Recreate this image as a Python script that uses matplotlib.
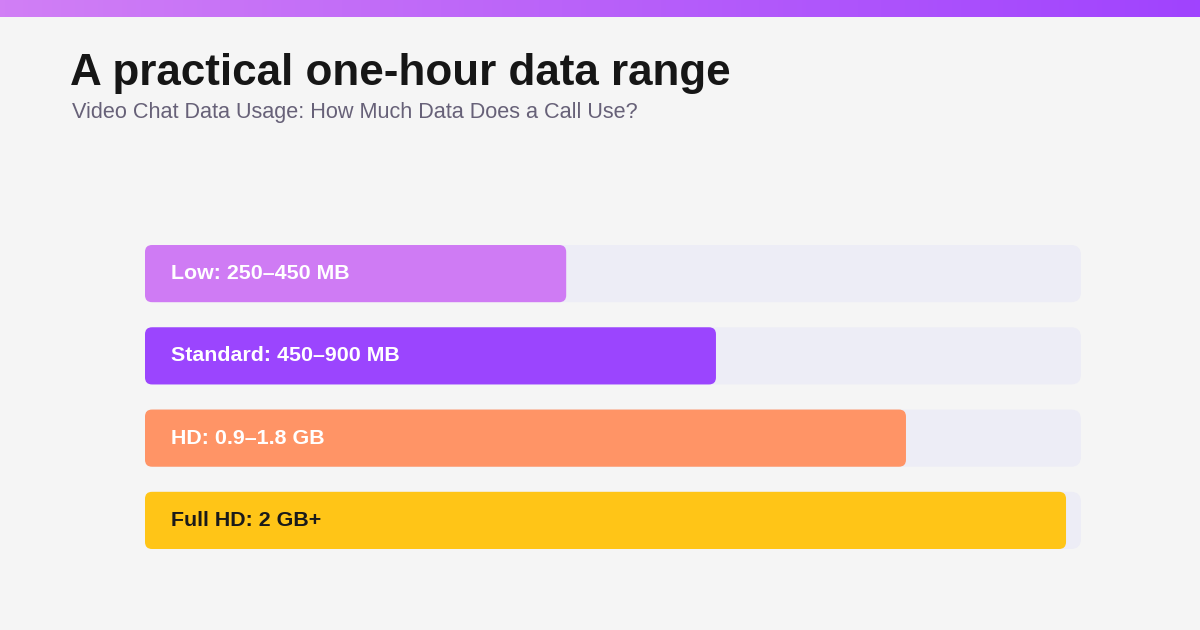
import matplotlib
matplotlib.use("Agg")
import matplotlib.pyplot as plt
import numpy as np
from matplotlib.patches import FancyBboxPatch
from matplotlib.colors import LinearSegmentedColormap

# ---- data ----
categories = ["Low: 250–450 MB", "Standard: 450–900 MB", "HD: 0.9–1.8 GB", "Full HD: 2 GB+"]
fill_pct = [45, 61, 81.3, 98.4]
track_max = 100
bar_colors = ["#cf7bf4", "#9b45fe", "#ff9466", "#ffc517"]
label_colors = ["#ffffff", "#ffffff", "#ffffff", "#1a1a1a"]
title = "A practical one-hour data range"
subtitle = "Video Chat Data Usage: How Much Data Does a Call Use?"

W, H = 1200, 630
fig = plt.figure(figsize=(W / 100, H / 100), dpi=100)
fig.patch.set_facecolor("#f5f5f5")
plt.rcParams['font.family'] = ['Liberation Sans', 'DejaVu Sans']

# top gradient strip
gax = fig.add_axes([0, 1 - 17 / H, 1, 17 / H])
cmap = LinearSegmentedColormap.from_list("g", ["#d17ff5", "#a043fe"])
gax.imshow(np.linspace(0, 1, 256)[None, :], aspect="auto", cmap=cmap, extent=[0, 1, 0, 1])
gax.set_axis_off()

# titles
fig.text(70 / W, 1 - 85 / H, title, fontsize=31.7, fontweight="bold", color="#161616", va="baseline", ha="left")
fig.text(72 / W, 1 - 118 / H, subtitle, fontsize=15.6, color="#676178", va="baseline", ha="left")

# bars axes
x0, x1 = 145, 1081
ytop, ybot = 245, 549
ax = fig.add_axes([x0 / W, 1 - ybot / H, (x1 - x0) / W, (ybot - ytop) / H])
ax.set_facecolor("none")
n = len(categories)
bh = 57 / 82
ax.set_xlim(0, track_max)
ax.set_ylim(n - 1 + bh / 2, -bh / 2)
ax.set_axis_off()

fig.canvas.draw()
px_x = ax.transData.transform((1, 0))[0] - ax.transData.transform((0, 0))[0]
px_y = abs(ax.transData.transform((0, 1))[1] - ax.transData.transform((0, 0))[1])
aspect = px_x / px_y

ypos = np.arange(n)
tracks = ax.barh(ypos, [track_max] * n, height=bh, color="#ededf6")
fills = ax.barh(ypos, fill_pct, height=bh, color=bar_colors)

def roundify(bars, rpx, z):
    for b in bars:
        x, y = b.get_x(), b.get_y()
        w, h = b.get_width(), b.get_height()
        b.set_visible(False)
        p = FancyBboxPatch((x, y), w, h,
                           boxstyle=f"round,pad=0,rounding_size={rpx / px_x}",
                           mutation_aspect=aspect,
                           facecolor=b.get_facecolor(), edgecolor="none", zorder=z)
        ax.add_patch(p)

roundify(tracks, 10, 1)
roundify(fills, 7, 2)

for i, (lab, c) in enumerate(zip(categories, label_colors)):
    ax.annotate(lab, xy=(0, i), xytext=(26, 0), textcoords="offset pixels",
                va="center", ha="left", fontsize=15.4, fontweight="bold", color=c, zorder=3)

fig.savefig("out.png", dpi=100, facecolor=fig.get_facecolor())
